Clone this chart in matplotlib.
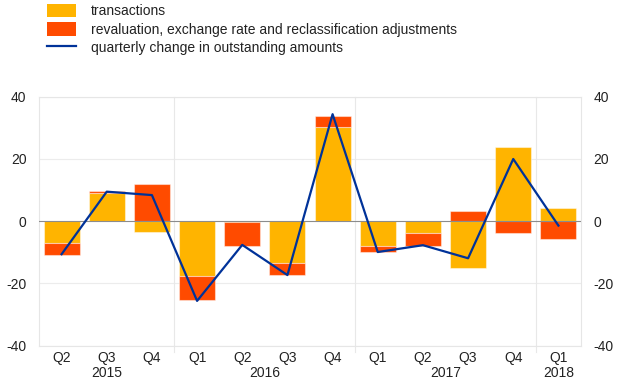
import matplotlib
matplotlib.use("Agg")
import matplotlib.pyplot as plt
import matplotlib.transforms as mtrans
from matplotlib.patches import Patch
from matplotlib.lines import Line2D
import numpy as np

plt.rcParams['font.family'] = ['Liberation Sans', 'DejaVu Sans']
plt.rcParams['axes.unicode_minus'] = False

quarters = ["Q2", "Q3", "Q4", "Q1", "Q2", "Q3", "Q4", "Q1", "Q2", "Q3", "Q4", "Q1"]
years = ["2015", "2016", "2017", "2018"]
year_centers = [1.0, 4.5, 8.5, 11.0]
year_breaks = [2.5, 6.5, 10.5]
transactions = [-6.9, 9.1, -3.5, -17.6, -0.4, -13.5, 30.3, -7.9, -3.9, -15.1, 23.8, 4.2]
revaluation = [-3.8, 0.5, 11.9, -7.8, -7.4, -3.9, 3.6, -2.1, -3.9, 3.3, -3.8, -5.7]
outstanding = [-10.6, 9.5, 8.4, -25.6, -7.6, -17.3, 34.4, -9.9, -7.7, -11.9, 20.0, -1.4]

c_tr = "#FFB400"
c_rv = "#FF4B00"
c_ln = "#003299"

fig = plt.figure(figsize=(6.2, 3.87), dpi=100)
ax = fig.add_axes([0.0629, 0.1067, 0.8742, 0.6433])

x = np.arange(len(quarters))
tr = np.array(transactions)
rv = np.array(revaluation)
pos_base = np.zeros(len(x))
neg_base = np.zeros(len(x))
for vals, col in [(tr, c_tr), (rv, c_rv)]:
    bottoms = np.where(vals >= 0, pos_base, neg_base)
    ax.bar(x, vals, bottom=bottoms, width=0.8, color=col,
           edgecolor=(1, 1, 1, 0.45), linewidth=0.8, zorder=2)
    pos_base = pos_base + np.where(vals >= 0, vals, 0)
    neg_base = neg_base + np.where(vals < 0, vals, 0)

ax.plot(x, outstanding, color=c_ln, lw=1.6, zorder=4)

ax.set_xlim(-0.5, len(x) - 0.5)
ax.set_ylim(-40, 40)
ax.set_yticks([-40, -20, 0, 20, 40])
for yv in [-40, -20, 20, 40]:
    ax.axhline(yv, color="#ececec", lw=0.8, zorder=0)
ax.axhline(0, color="#8c8c8c", lw=0.8, zorder=3)

trans = mtrans.blended_transform_factory(ax.transData, ax.transAxes)
for b in year_breaks:
    ax.plot([b, b], [-0.025, 1.0], transform=trans, color="#e8e8e8", lw=0.8,
            clip_on=False, zorder=0)

for s in ax.spines.values():
    s.set_color("#e6e6e6")
    s.set_linewidth(0.8)

ax.set_xticks(x)
ax.set_xticklabels(quarters, fontsize=10, color="#222222")
ax.tick_params(axis="x", length=0, pad=4)
ax.tick_params(axis="y", length=0, labelsize=10, labelcolor="#222222", pad=9,
               left=False, right=False, labelleft=True, labelright=True)
for xc, yr in zip(year_centers, years):
    ax.text(xc, -0.08, yr, transform=trans, ha="center", va="top",
            fontsize=10, color="#222222")

handles = [Patch(facecolor=c_tr, edgecolor="none"),
           Patch(facecolor=c_rv, edgecolor="none"),
           Line2D([0], [0], color=c_ln, lw=1.6)]
labels = ["transactions",
          "revaluation, exchange rate and reclassification adjustments",
          "quarterly change in outstanding amounts"]
fig.legend(handles, labels, loc="upper left", bbox_to_anchor=(47 / 620, 1 - 4 / 387),
           frameon=False, fontsize=10, handlelength=2.1, handleheight=1.1,
           labelspacing=0.28, handletextpad=1.05, borderpad=0, borderaxespad=0,
           labelcolor="#222222")

fig.savefig("out.png", dpi=100)
